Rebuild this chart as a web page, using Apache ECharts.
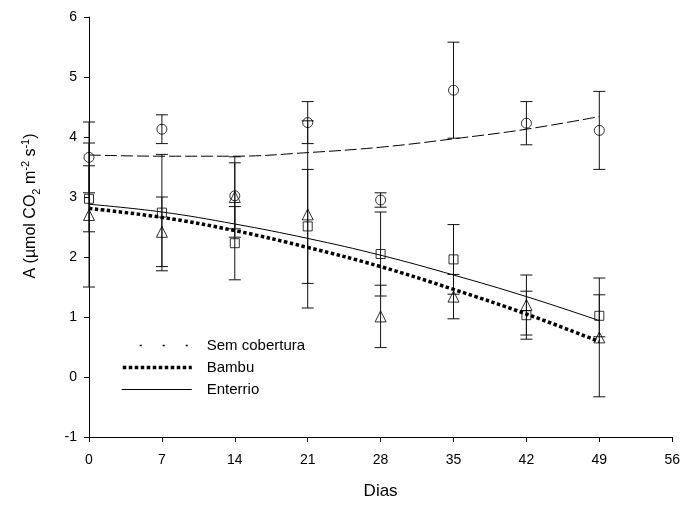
<!DOCTYPE html>
<html>
<head>
<meta charset="utf-8">
<script src="https://cdn.jsdelivr.net/npm/echarts@6/dist/echarts.min.js"></script>
<style>
  html, body { margin: 0; padding: 0; background: #fff; }
  #chart { width: 683px; height: 505px; }
</style>
</head>
<body>
<div id="chart"></div>
<script>
const FONT = 'Liberation Sans, Arial, sans-serif'

// days of measurement
const days = [0, 7, 14, 21, 28, 35, 42, 49]

// means and error (half-length of bar)
const semMean = [3.66, 4.13, 3.02, 4.24, 2.95, 4.78, 4.23, 4.11]
const semErr = [0.59, 0.24, 0.55, 0.35, 0.12, 0.80, 0.36, 0.65]
const bambuMean = [2.70, 2.42, 3.00, 2.71, 1.01, 1.34, 1.20, 0.66]
const bambuErr = [1.20, 0.58, 0.67, 1.56, 0.52, 0.37, 0.50, 0.99]
const enterrioMean = [2.97, 2.74, 2.23, 2.51, 2.05, 1.96, 1.03, 1.02]
const enterrioErr = [0.55, 0.97, 0.61, 0.95, 0.70, 0.58, 0.40, 0.35]

// fitted curves, read at each day
const semFit = [3.70, 3.68, 3.68, 3.74, 3.83, 3.97, 4.13, 4.34]
const bambuFit = [2.81, 2.66, 2.44, 2.16, 1.84, 1.46, 1.05, 0.59]
const enterrioFit = [2.88, 2.75, 2.55, 2.31, 2.03, 1.70, 1.34, 0.94]

const xTicks = [0, 56, 7]   // min, max, step
const yTicks = [-1, 6, 1]

function pairs(ys) {
  return days.map((d, i) => [d, ys[i]])
}

function bars(mean, err) {
  return days.map((d, i) => [d, mean[i] - err[i], mean[i] + err[i]])
}

function renderErrorBar(params, api) {
  const x = api.value(0)
  const lo = api.coord([x, api.value(1)])
  const hi = api.coord([x, api.value(2)])
  const hw = 6
  const style = { stroke: '#111', lineWidth: 1 }
  return {
    type: 'group',
    children: [
      { type: 'line', shape: { x1: hi[0], y1: hi[1], x2: lo[0], y2: lo[1] }, style },
      { type: 'line', shape: { x1: hi[0] - hw, y1: hi[1], x2: hi[0] + hw, y2: hi[1] }, style },
      { type: 'line', shape: { x1: lo[0] - hw, y1: lo[1], x2: lo[0] + hw, y2: lo[1] }, style },
    ],
  }
}

function errorSeries(name, mean, err) {
  return {
    name,
    type: 'custom',
    renderItem: renderErrorBar,
    data: bars(mean, err),
    encode: { x: 0, y: [1, 2] },
    z: 2,
    silent: true,
  }
}

function pointSeries(name, mean, symbol, size) {
  return {
    name,
    type: 'scatter',
    symbol,
    symbolSize: size,
    data: pairs(mean),
    itemStyle: { color: 'rgba(0,0,0,0)', borderColor: '#000', borderWidth: 1 },
    z: 4,
    silent: true,
  }
}

function fitSeries(name, ys, lineStyle) {
  return {
    name,
    type: 'line',
    data: pairs(ys),
    smooth: 0.4,
    symbol: 'none',
    showSymbol: false,
    lineStyle: Object.assign({ color: '#000' }, lineStyle),
    itemStyle: { color: '#000' },
    z: 3,
    silent: true,
  }
}

const chart = echarts.init(document.getElementById('chart'), null, { renderer: 'canvas' })

const axisCommon = {
  axisLine: { show: true, onZero: false, lineStyle: { color: '#000', width: 1 } },
  axisTick: { show: true, inside: false, length: 5, lineStyle: { color: '#000' } },
  splitLine: { show: false },
}

chart.setOption({
  animation: false,
  backgroundColor: '#fff',
  grid: { left: 89, right: 7, top: 17, bottom: 65 },
  legend: {
    orient: 'vertical',
    left: 115,
    top: 333,
    itemWidth: 70,
    itemHeight: 10,
    itemGap: 7,
    selectedMode: false,
    itemStyle: { opacity: 0 },
    textStyle: { color: '#000', fontFamily: FONT, fontSize: 15, padding: [0, 0, 0, 10] },
    data: [
      { name: 'Sem cobertura', lineStyle: { type: [2, 21], dashOffset: 5, width: 1.5 } },
      { name: 'Bambu', lineStyle: { type: [3.5, 2.5], width: 3.5 } },
      { name: 'Enterrio', lineStyle: { width: 1 } },
    ],
  },
  xAxis: Object.assign({}, axisCommon, {
    type: 'value',
    min: xTicks[0],
    max: xTicks[1],
    interval: xTicks[2],
    axisLabel: { color: '#000', fontFamily: FONT, fontSize: 14, margin: 16 },
    name: 'Dias',
    nameLocation: 'middle',
    nameGap: 46,
    nameTextStyle: { color: '#000', fontFamily: FONT, fontSize: 17 },
  }),
  yAxis: Object.assign({}, axisCommon, {
    type: 'value',
    min: yTicks[0],
    max: yTicks[1],
    interval: yTicks[2],
    axisLabel: { color: '#000', fontFamily: FONT, fontSize: 14, margin: 12 },
    name: '{t|A (µmol CO}{sub|2}{t| m}{sup|-2}{t| s}{sup|-1}{t|)}',
    nameLocation: 'middle',
    nameGap: 47,
    nameTextStyle: {
      color: '#000',
      fontFamily: FONT,
      fontSize: 16,
      padding: [0, 0, 0, 42],
      rich: {
        t: { fontFamily: FONT, fontSize: 16, lineHeight: 22, color: '#000' },
        sub: { fontFamily: FONT, fontSize: 11, lineHeight: 10, verticalAlign: 'bottom', color: '#000' },
        sup: { fontFamily: FONT, fontSize: 11, lineHeight: 10, verticalAlign: 'top', color: '#000' },
      },
    },
  }),
  series: [
    errorSeries('err-sem', semMean, semErr),
    errorSeries('err-bambu', bambuMean, bambuErr),
    errorSeries('err-enterrio', enterrioMean, enterrioErr),
    fitSeries('Sem cobertura', semFit, { type: [12, 4], width: 1 }),
    fitSeries('Bambu', bambuFit, { type: [3.5, 2.5], width: 3.5, cap: 'butt' }),
    fitSeries('Enterrio', enterrioFit, { type: 'solid', width: 1 }),
    pointSeries('pts-sem', semMean, 'circle', 10),
    pointSeries('pts-bambu', bambuMean, 'triangle', 11),
    pointSeries('pts-enterrio', enterrioMean, 'rect', 9),
  ],
})
</script>
</body>
</html>
